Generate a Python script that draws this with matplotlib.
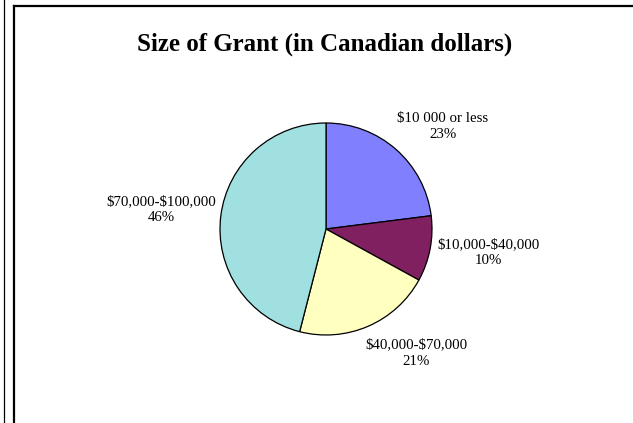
import matplotlib.pyplot as plt
from matplotlib.lines import Line2D

# data
categories = ['$10 000 or less', '$10,000-$40,000', '$40,000-$70,000', '$70,000-$100,000']
shares = [23, 10, 21, 46]
colors = ['#8080FF', '#802060', '#FFFFC0', '#A0E0E0']
# label spots, in pie radius units
label_xy = [(1.10, 0.97), (1.53, -0.22), (0.85, -1.17), (-1.55, 0.18)]

W, H = 633, 423
fig = plt.figure(figsize=(W / 100, H / 100), dpi=100)
fig.patch.set_facecolor('white')

# chart frame
fig.add_artist(Line2D([3.5 / W, 3.5 / W], [0, 1], color='black', lw=0.9))
fig.add_artist(Line2D([14 / W, 14 / W], [0, 1 - 6 / H], color='black', lw=1.6))
fig.add_artist(Line2D([14 / W, 1], [1 - 6 / H, 1 - 6 / H], color='black', lw=1.6))

fig.text(325 / W, 1 - 44 / H, 'Size of Grant (in Canadian dollars)', ha='center', va='center',
         fontsize=18, fontweight='bold', family='Liberation Serif')

cx, cy, r = 326, 229, 106
ax = fig.add_axes([(cx - r) / W, (H - cy - r) / H, 2 * r / W, 2 * r / H])
ax.pie(shares, colors=colors, startangle=90, counterclock=False,
       wedgeprops=dict(edgecolor='black', linewidth=0.9))
ax.set_xlim(-1, 1)
ax.set_ylim(-1, 1)
ax.set_aspect('equal')
ax.axis('off')

for name, val, (x, y) in zip(categories, shares, label_xy):
    ax.text(x, y, f'{name}\n{val}%', ha='center', va='center', fontsize=10.7,
            family='Liberation Serif', linespacing=1.3, clip_on=False,
            parse_math=False)

fig.savefig('out.png', dpi=100)
